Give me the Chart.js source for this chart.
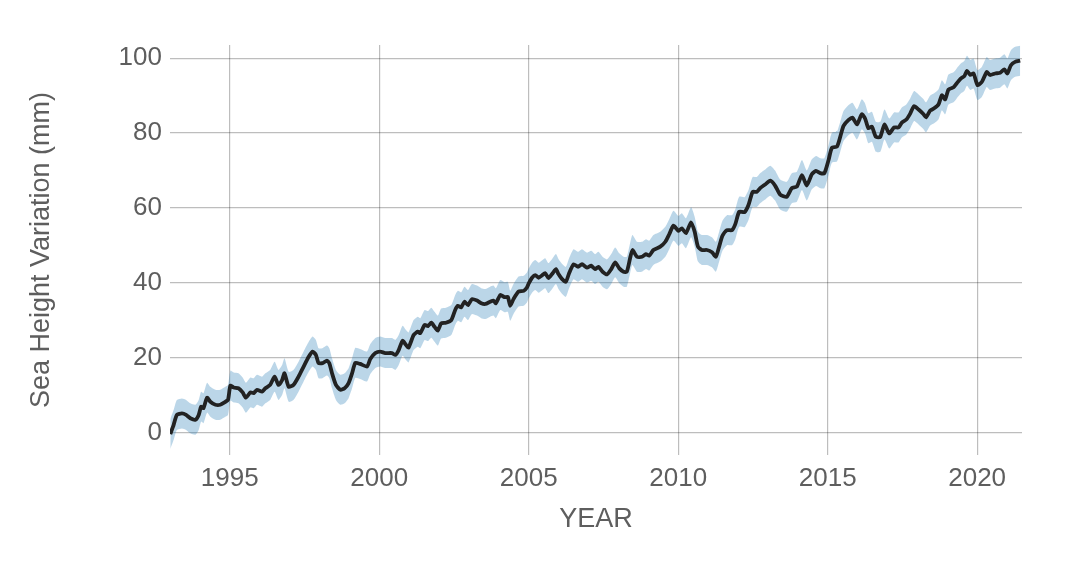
<!DOCTYPE html>
<html>
<head>
<meta charset="utf-8">
<script src="https://cdn.jsdelivr.net/npm/chart.js@4/dist/chart.umd.min.js"></script>
<style>
  html, body { margin: 0; padding: 0; background: #fff; }
  #wrap { width: 1068px; height: 580px; }
</style>
</head>
<body>
<div id="wrap"><canvas id="myChart" width="1068" height="580"></canvas></div>
<script>
'use strict';

// decimal year of each reading
var years = [
  1993.01, 1993.12, 1993.23, 1993.40, 1993.54, 1993.68, 1993.85, 1993.96,
  1994.04, 1994.12, 1994.24, 1994.35, 1994.52, 1994.68, 1994.85, 1994.94,
  1995.02, 1995.13, 1995.29, 1995.43, 1995.54, 1995.69, 1995.80, 1995.91,
  1996.08, 1996.19, 1996.35, 1996.50, 1996.63, 1996.75, 1996.83, 1996.97,
  1997.13, 1997.30, 1997.47, 1997.64, 1997.77, 1997.88, 1997.97,
  1998.10, 1998.25, 1998.33, 1998.42, 1998.55, 1998.70, 1998.84, 1998.97,
  1999.09, 1999.20, 1999.36, 1999.59, 1999.70, 1999.87,
  2000.03, 2000.20, 2000.42, 2000.54, 2000.65, 2000.78, 2000.89, 2000.98,
  2001.15, 2001.29, 2001.37, 2001.52, 2001.63, 2001.74, 2001.85, 2001.96,
  2002.07, 2002.23, 2002.41, 2002.54, 2002.63, 2002.74, 2002.85, 2002.97,
  2003.10, 2003.27, 2003.41, 2003.55, 2003.71, 2003.82, 2003.90,
  2004.05, 2004.19, 2004.30, 2004.38, 2004.49, 2004.66, 2004.83, 2004.94,
  2005.00, 2005.11, 2005.22, 2005.33, 2005.44, 2005.55, 2005.66, 2005.80, 2005.91,
  2006.00, 2006.11, 2006.24, 2006.35, 2006.50, 2006.65, 2006.78, 2006.95,
  2007.09, 2007.22, 2007.33, 2007.47, 2007.62, 2007.76, 2007.89,
  2008.03, 2008.17, 2008.28, 2008.39, 2008.47, 2008.62, 2008.79, 2008.92,
  2009.03, 2009.17, 2009.40, 2009.57, 2009.70, 2009.84,
  2010.01, 2010.12, 2010.26, 2010.43, 2010.55, 2010.66, 2010.79, 2010.96,
  2011.13, 2011.26, 2011.37, 2011.48, 2011.63, 2011.80, 2011.91,
  2012.04, 2012.22, 2012.35, 2012.49, 2012.63, 2012.74, 2012.91,
  2013.08, 2013.24, 2013.41, 2013.63, 2013.80, 2013.97,
  2014.14, 2014.30, 2014.47, 2014.61, 2014.75, 2014.89,
  2015.03, 2015.14, 2015.31, 2015.42, 2015.53, 2015.70, 2015.83, 2015.98,
  2016.14, 2016.25, 2016.36, 2016.48, 2016.61, 2016.76, 2016.90,
  2017.06, 2017.22, 2017.37, 2017.48, 2017.63, 2017.76, 2017.89,
  2018.04, 2018.20, 2018.29, 2018.43, 2018.56, 2018.71, 2018.82, 2018.93,
  2019.04, 2019.21, 2019.32, 2019.46, 2019.57, 2019.66, 2019.77, 2019.88,
  2020.01, 2020.16, 2020.32, 2020.43, 2020.60, 2020.77, 2020.91,
  2021.01, 2021.13, 2021.27, 2021.44
];

// sea height variation (mm)
var seaHeight = [
  -0.3, 2.1, 4.8, 5.2, 4.8, 3.9, 3.5, 4.8,
  7.0, 6.6, 9.4, 8.3, 7.5, 7.5, 8.3, 8.8,
  12.6, 12.1, 11.9, 10.8, 9.4, 10.8, 10.6, 11.5,
  11.0, 11.9, 12.8, 15.0, 12.8, 14.1, 15.9, 12.3,
  12.8, 15.0, 17.7, 20.3, 21.7, 20.8, 18.6,
  18.6, 19.3, 18.6, 15.9, 12.8, 11.5, 11.9, 13.2,
  15.9, 18.7, 18.4, 17.7, 19.7, 21.3,
  21.7, 21.3, 21.3, 20.8, 22.1, 24.6, 23.5, 22.8,
  26.1, 27.0, 26.6, 28.8, 28.5, 29.4, 28.3, 27.3,
  29.2, 29.4, 30.1, 32.8, 33.9, 33.5, 35.0, 34.1,
  35.7, 35.3, 34.6, 34.4, 35.0, 35.3, 34.6,
  36.8, 36.2, 36.3, 33.9, 35.7, 37.7, 37.9, 38.8,
  39.9, 41.4, 42.1, 41.4, 42.0, 42.6, 41.3, 42.6, 43.7,
  42.3, 41.1, 40.3, 42.6, 45.0, 44.3, 45.0, 44.1,
  44.6, 43.7, 44.3, 43.0, 42.3, 43.7, 45.5,
  43.9, 43.0, 43.0, 46.6, 48.8, 47.0, 47.0, 47.7,
  47.3, 48.8, 49.7, 51.0, 53.0, 55.3,
  53.9, 54.6, 53.3, 56.2, 53.7, 49.7, 48.8, 48.8,
  48.2, 47.0, 49.7, 52.6, 54.1, 54.1, 55.7,
  59.0, 58.9, 60.8, 64.3, 64.3, 65.3, 66.3,
  67.3, 66.0, 63.6, 63.0, 65.3, 65.7,
  68.8, 66.0, 69.0, 69.9, 69.3, 69.3,
  72.8, 76.1, 76.4, 79.0, 81.9, 83.5, 84.1, 82.3,
  85.0, 83.9, 81.3, 81.7, 79.0, 79.0, 82.3,
  79.9, 81.5, 81.5, 82.8, 83.6, 85.2, 87.2,
  86.3, 85.1, 84.2, 86.0, 86.6, 87.7, 90.1, 89.0,
  91.6, 92.2, 93.3, 94.6, 95.2, 96.6, 95.5, 95.9,
  92.8, 93.7, 96.3, 95.5, 95.9, 96.1, 97.0,
  95.9, 98.1, 99.0, 99.3
];

// half width of the shaded band (mm)
var bandHalfWidth = 4;

var xTicks = [1995, 2000, 2005, 2010, 2015, 2020];
var yTicks = [0, 20, 40, 60, 80, 100];

var linePoints = [];
var upperPoints = [];
var lowerPoints = [];
for (var i = 0; i < years.length; i++) {
  linePoints.push({ x: years[i], y: seaHeight[i] });
  upperPoints.push({ x: years[i], y: seaHeight[i] + bandHalfWidth });
  lowerPoints.push({ x: years[i], y: seaHeight[i] - bandHalfWidth });
}

var fontName = "'Liberation Sans', Arial, sans-serif";
var textColor = '#5e5e5e';
var gridColor = 'rgba(0, 0, 0, 0.26)';

var ctx = document.getElementById('myChart').getContext('2d');
var chart = new Chart(ctx, {
  type: 'line',
  data: {
    datasets: [
      {
        label: 'Sea height',
        data: linePoints,
        borderColor: '#222222',
        borderWidth: 3.8,
        pointRadius: 0,
        tension: 0.2,
        fill: false
      },
      {
        label: 'upper',
        data: upperPoints,
        borderWidth: 0,
        borderColor: 'rgba(0,0,0,0)',
        pointRadius: 0,
        tension: 0.2,
        fill: false
      },
      {
        label: 'lower',
        data: lowerPoints,
        borderWidth: 0,
        borderColor: 'rgba(0,0,0,0)',
        backgroundColor: 'rgba(31, 119, 180, 0.3)',
        pointRadius: 0,
        tension: 0.2,
        fill: '-1'
      }
    ]
  },
  options: {
    responsive: false,
    animation: false,
    layout: { padding: { top: 45, right: 46, bottom: 0, left: 0 } },
    plugins: {
      legend: { display: false },
      tooltip: { enabled: false }
    },
    scales: {
      x: {
        type: 'linear',
        min: 1993.0,
        max: 2021.5,
        border: { display: false },
        grid: { color: gridColor, lineWidth: 1.2, drawTicks: false },
        afterBuildTicks: function (scale) {
          scale.ticks = xTicks.map(function (v) { return { value: v }; });
        },
        afterFit: function (scale) { scale.height = 125; },
        ticks: {
          color: textColor,
          padding: 8,
          font: { family: fontName, size: 26 },
          callback: function (v) { return String(v); }
        },
        title: {
          display: true,
          text: 'YEAR',
          color: textColor,
          font: { family: fontName, size: 27 },
          padding: { top: 0, bottom: 44 }
        }
      },
      y: {
        min: -5.9,
        max: 103.5,
        border: { display: false },
        grid: { color: gridColor, lineWidth: 1.2, drawTicks: false },
        afterBuildTicks: function (scale) {
          scale.ticks = yTicks.map(function (v) { return { value: v }; });
        },
        afterFit: function (scale) { scale.width = 170; },
        ticks: {
          color: textColor,
          padding: 8,
          font: { family: fontName, size: 26 },
          callback: function (v) { return String(v); }
        },
        title: {
          display: true,
          text: 'Sea Height Variation (mm)',
          color: textColor,
          font: { family: fontName, size: 27 },
          padding: { top: 25, bottom: 0 }
        }
      }
    }
  }
});
</script>
</body>
</html>
